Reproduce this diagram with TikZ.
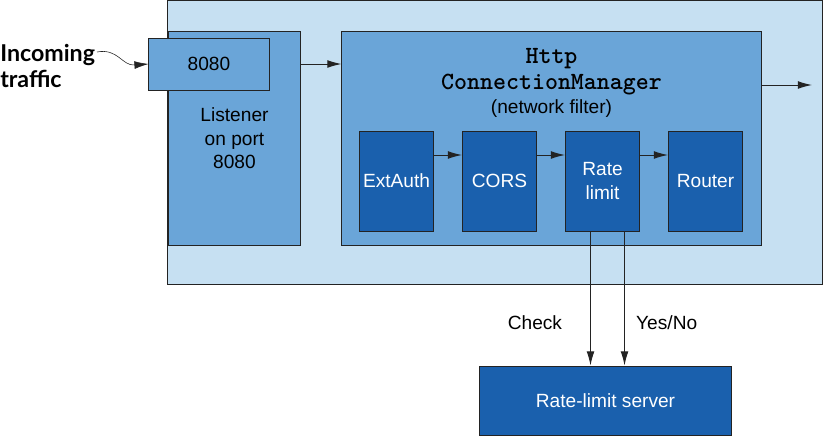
\documentclass[tikz,border=0pt]{standalone}
\usepackage{fontspec}
\setmainfont{Liberation Sans}
\newfontfamily\slabmono{lmmonolt10-bold.otf}
\newfontfamily\calloutfont{Lato}
\usetikzlibrary{arrows.meta,positioning}
\definecolor{paleblue}{RGB}{198,224,242}
\definecolor{midblue}{RGB}{106,165,216}
\definecolor{deepblue}{RGB}{26,96,173}
\definecolor{edgegray}{RGB}{35,35,35}
\newcommand{\monotitle}{\slabmono\fontsize{17.6}{19}\selectfont}
\newcommand{\plaintext}{\normalfont\fontsize{13.6}{16.6}\selectfont}

\begin{document}
\begin{tikzpicture}[
    x=0.025cm, y=-0.025cm,
    font=\fontsize{13.6}{16.6}\selectfont,
    node distance=0.7cm,
    frame/.style={rectangle, draw=edgegray, line width=0.7pt, inner sep=0pt},
    hostbox/.style={frame, fill=paleblue, minimum width=16.35cm, minimum height=7.075cm},
    listenbox/.style={frame, fill=midblue, align=center},
    filterbox/.style={frame, fill=deepblue, text=white, align=center,
                      minimum width=1.85cm, minimum height=2.5cm},
    arr/.style={-{Latex[length=10pt,width=5.5pt]}, line width=0.7pt, edgegray},
    lbl/.style={inner sep=0pt, text=black},
  ]
    \useasboundingbox (0,0) rectangle (824,436);

    %% ── Proxy and listener ───────────────────────────────────
    \node[hostbox]   (proxy)    at (495,142.5) {};
    \node[listenbox, minimum width=3.275cm, minimum height=5.325cm]
                     (listener) at (234.5,138.5) {Listener\\on port\\8080};
    \node[listenbox, minimum width=3cm, minimum height=1.3cm]
                     (port)     at (209,64) {8080};
    \node[anchor=west, align=left, inner sep=0pt,
          font=\calloutfont\bfseries\fontsize{16.5}{18.5}\selectfont]
                     (incoming) at (0,66) {Incoming\\traffic};
    \coordinate (tail) at (97,52);

    %% ── HTTP connection manager ──────────────────────────────
    \node[listenbox, minimum width=10.475cm, minimum height=5.325cm]
                     (hcm)      at (551.5,138.5) {};
    \node[align=center, inner sep=0pt, font=\monotitle] (hcmtitle) at (551.5,83)
      {Http\\ConnectionManager\\[-2pt]\plaintext (network filter)};
    \coordinate (exit) at (812,85);

    %% ── Filter chain ─────────────────────────────────────────
    \node[filterbox] (extauth)   at (396.5,181) {ExtAuth};
    \node[filterbox] (cors)      [right=of extauth]   {CORS};
    \node[filterbox] (ratelimit) [right=of cors]      {Rate\\limit};
    \node[filterbox] (router)    [right=of ratelimit] {Router};

    %% ── Rate-limit service ───────────────────────────────────
    \node[filterbox, minimum width=6.275cm, minimum height=1.725cm]
                     (server)   at (605.5,400.5) {Rate-limit server};
    \coordinate (chk) at ([xshift=-0.3cm]ratelimit.south);
    \coordinate (ans) at ([xshift=0.55cm]ratelimit.south);

    %% ── Arrows ───────────────────────────────────────────────
    \draw[arr, line width=0.4pt] (tail) .. controls (118,48) and (122,66) .. (port.west);
    \draw[arr] (listener.east |- port.east) -- (hcm.west |- port.east);
    \draw[arr] (hcm.east |- exit) -- (exit);
    \foreach \a/\b in {extauth/cors, cors/ratelimit, ratelimit/router}
      \draw[arr] ([yshift=0.65cm]\a.east) -- ([yshift=0.65cm]\b.west);
    \draw[arr] (chk) -- (chk |- server.north) node[lbl, pos=0.68, left=0.7cm] {Check};
    \draw[arr] (ans) -- (ans |- server.north) node[lbl, pos=0.68, right=0.28cm] {Yes/No};

  \end{tikzpicture}
\end{document}
